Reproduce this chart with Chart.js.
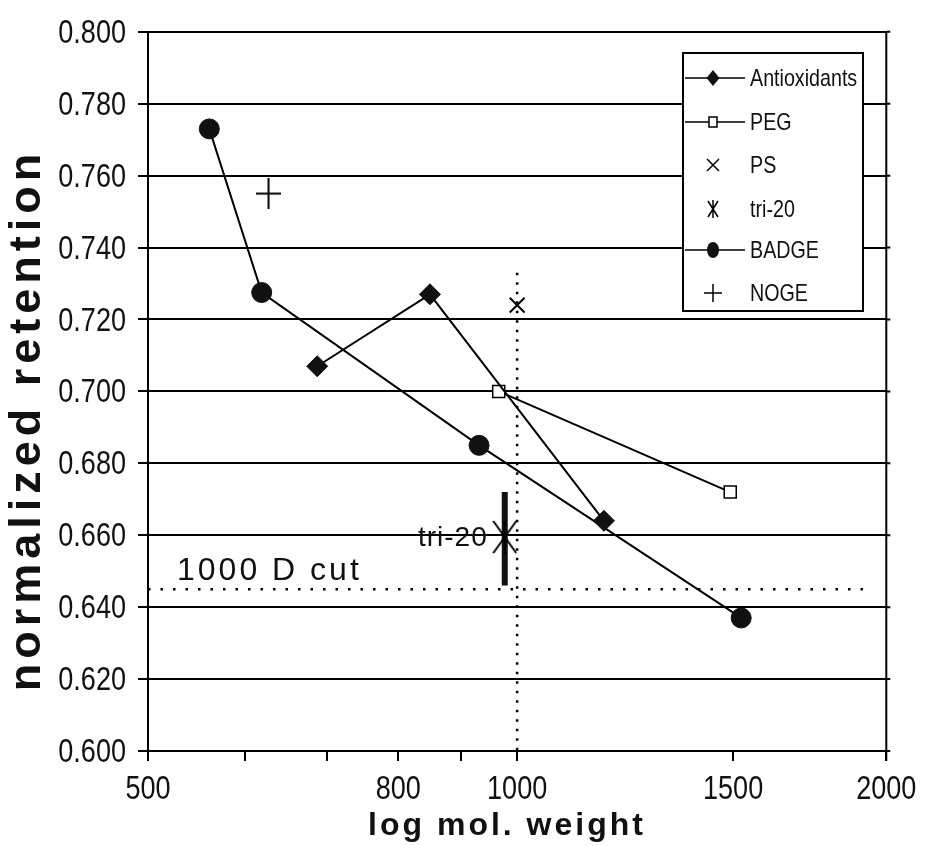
<!DOCTYPE html>
<html>
<head>
<meta charset="utf-8">
<script src="https://cdn.jsdelivr.net/npm/chart.js@4.4.1/dist/chart.umd.min.js"></script>
<style>
  html, body { margin: 0; padding: 0; background: #fff; }
  #wrap { width: 925px; height: 846px; }
</style>
</head>
<body>
<div id="wrap"><canvas id="myChart"></canvas></div>
<script>
const SANS = "'Liberation Sans', Arial, sans-serif";
const SQUEEZE = 0.82; // no narrow font installed, so text is squeezed by hand

// values: x = mol. weight, y = normalized retention
const antioxX = [687, 849, 1177];
const antioxY = [0.707, 0.727, 0.664];
const pegX = [966, 1492];
const pegY = [0.700, 0.672];
const psX = [1000];
const psY = [0.724];
const triX = [977];
const triY = [0.6595];
const triBarY = [0.672, 0.646];
const badgeX = [561, 619, 931, 1523];
const badgeY = [0.773, 0.7275, 0.685, 0.637];
const nogeX = [627];
const nogeY = [0.755];

// 1000 D cut lines
const cutMW = [1000, 1000];
const cutMWY = [0.733, 0.600];
const cutRetX = [500, 1930];
const cutRet = [0.645, 0.645];

const xTicks = [500, 600, 700, 800, 900, 1000, 1500, 2000];
const xLabels = [500, 800, 1000, 1500, 2000];
const yTicks = [0.600, 0.620, 0.640, 0.660, 0.680, 0.700, 0.720, 0.740, 0.760, 0.780, 0.800];

function pts(xs, ys) {
  return xs.map(function(x, i) { return { x: x, y: ys[i] }; });
}

// little canvases for the markers chart.js does not have
function starMark(w, h) {
  const c = document.createElement('canvas');
  c.width = w; c.height = h;
  const g = c.getContext('2d');
  g.strokeStyle = '#000'; g.lineWidth = 2;
  g.beginPath();
  g.moveTo(1, 1); g.lineTo(w - 1, h - 1);
  g.moveTo(w - 1, 1); g.lineTo(1, h - 1);
  g.moveTo(w / 2, 0); g.lineTo(w / 2, h);
  g.stroke();
  return c;
}
function plusMark(w, h) {
  const c = document.createElement('canvas');
  c.width = w; c.height = h;
  const g = c.getContext('2d');
  g.strokeStyle = '#000'; g.lineWidth = 2;
  g.beginPath();
  g.moveTo(0, h / 2); g.lineTo(w, h / 2);
  g.moveTo(w / 2, 0); g.lineTo(w / 2, h);
  g.stroke();
  return c;
}

const data = {
  datasets: [
    { label: 'Antioxidants', data: pts(antioxX, antioxY), showLine: true,
      borderColor: '#000', borderWidth: 2, pointStyle: 'rectRot', pointRadius: 10.5,
      pointBackgroundColor: '#111', pointBorderColor: '#111', pointBorderWidth: 1 },
    { label: 'PEG', data: pts(pegX, pegY), showLine: true,
      borderColor: '#000', borderWidth: 2, pointStyle: 'rect', pointRadius: 8.5,
      pointBackgroundColor: '#fff', pointBorderColor: '#000', pointBorderWidth: 1.5 },
    { label: 'PS', data: pts(psX, psY), showLine: false,
      pointStyle: 'crossRot', pointRadius: 10.5, pointBorderColor: '#000', pointBorderWidth: 2 },
    { label: 'tri-20', data: pts(triX, triY), showLine: false,
      pointStyle: starMark(25, 34), pointRadius: 12 },
    { label: 'BADGE', data: pts(badgeX, badgeY), showLine: true,
      borderColor: '#000', borderWidth: 2, pointStyle: 'circle', pointRadius: 10,
      pointBackgroundColor: '#111', pointBorderColor: '#111', pointBorderWidth: 1 },
    { label: 'NOGE', data: pts(nogeX, nogeY), showLine: false,
      pointStyle: plusMark(25, 31), pointRadius: 12 },
    // thick range bar for tri-20
    { label: '', data: pts([triX[0], triX[0]], triBarY), showLine: true,
      borderColor: '#111', borderWidth: 6, pointRadius: 0, borderCapStyle: 'butt' },
    { label: '', data: pts(cutMW, cutMWY), showLine: true,
      borderColor: '#000', borderWidth: 2.5, borderDash: [2.5, 7], pointRadius: 0 },
    { label: '', data: pts(cutRetX, cutRet), showLine: true,
      borderColor: '#000', borderWidth: 2.5, borderDash: [2.5, 10], pointRadius: 0 }
  ]
};

function narrowText(ctx, text, x, y, align) {
  ctx.save();
  ctx.translate(x, y);
  ctx.scale(SQUEEZE, 1);
  ctx.textAlign = align;
  ctx.fillText(text, 0, 0);
  ctx.restore();
}

function legendMark(ctx, i, x, y) {
  ctx.save();
  ctx.fillStyle = '#111'; ctx.strokeStyle = '#000'; ctx.lineWidth = 1.5;
  ctx.beginPath();
  if (i === 0) {
    ctx.moveTo(x, y - 8); ctx.lineTo(x + 6.5, y); ctx.lineTo(x, y + 8); ctx.lineTo(x - 6.5, y);
    ctx.closePath(); ctx.fill();
  } else if (i === 1) {
    ctx.fillStyle = '#fff';
    ctx.rect(x - 4, y - 5, 8, 10); ctx.fill(); ctx.stroke();
  } else if (i === 2) {
    ctx.moveTo(x - 6, y - 6); ctx.lineTo(x + 6, y + 6);
    ctx.moveTo(x + 6, y - 6); ctx.lineTo(x - 6, y + 6); ctx.stroke();
  } else if (i === 3) {
    ctx.moveTo(x - 5, y - 8); ctx.lineTo(x + 5, y + 8);
    ctx.moveTo(x + 5, y - 8); ctx.lineTo(x - 5, y + 8);
    ctx.moveTo(x, y - 9); ctx.lineTo(x, y + 9); ctx.stroke();
  } else if (i === 4) {
    ctx.ellipse(x, y, 6, 8, 0, 0, Math.PI * 2); ctx.fill();
  } else if (i === 5) {
    ctx.moveTo(x - 9, y); ctx.lineTo(x + 9, y);
    ctx.moveTo(x, y - 9); ctx.lineTo(x, y + 9); ctx.stroke();
  }
  ctx.restore();
}

const extras = {
  id: 'extras',
  afterDatasetsDraw(chart) {
    const ctx = chart.ctx, xs = chart.scales.x, ys = chart.scales.y, a = chart.chartArea;
    ctx.save();
    ctx.fillStyle = '#111';
    ctx.letterSpacing = '1px';
    ctx.font = '28px ' + SANS;
    ctx.textAlign = 'right';
    ctx.textBaseline = 'middle';
    ctx.fillText('tri-20', xs.getPixelForValue(triX[0]) - 17, ys.getPixelForValue(triY[0]) + 1);
    ctx.letterSpacing = '3px';
    ctx.font = '32px ' + SANS;
    ctx.textAlign = 'left';
    ctx.textBaseline = 'alphabetic';
    ctx.fillText('1000 D cut', a.left + 29, ys.getPixelForValue(cutRet[0]) - 9);
    ctx.restore();
  },
  afterDraw(chart) {
    const ctx = chart.ctx, a = chart.chartArea, xs = chart.scales.x, ys = chart.scales.y;
    ctx.save();
    // right frame and gridline stubs
    ctx.strokeStyle = '#000'; ctx.lineWidth = 2;
    ctx.beginPath();
    ctx.moveTo(a.right, a.top); ctx.lineTo(a.right, a.bottom + 10);
    ys.ticks.forEach(function(t) {
      const py = ys.getPixelForValue(t.value);
      ctx.moveTo(a.right, py); ctx.lineTo(a.right + 4, py);
    });
    ctx.stroke();

    // tick labels, squeezed
    ctx.fillStyle = '#111';
    ctx.font = '33px ' + SANS;
    ctx.textBaseline = 'middle';
    yTicks.forEach(function(v) {
      narrowText(ctx, v.toFixed(3), a.left - 22, ys.getPixelForValue(v) + 2, 'right');
    });
    ctx.textBaseline = 'alphabetic';
    xLabels.forEach(function(v) {
      narrowText(ctx, String(v), xs.getPixelForValue(v), a.bottom + 48, 'center');
    });

    // legend
    const bx = 683, by = 53, bw = 180, bh = 258;
    ctx.fillStyle = '#fff';
    ctx.fillRect(bx, by, bw, bh);
    ctx.lineWidth = 2;
    ctx.strokeRect(bx, by, bw, bh);
    const rowY = [78, 122, 165, 209, 250, 293];
    ctx.font = '24px ' + SANS;
    ctx.textBaseline = 'middle';
    for (let i = 0; i < 6; i++) {
      const ds = chart.data.datasets[i];
      if (ds.showLine) {
        ctx.beginPath();
        ctx.lineWidth = 1.5;
        ctx.moveTo(bx + 2, rowY[i]); ctx.lineTo(bx + 62, rowY[i]);
        ctx.stroke();
      }
      legendMark(ctx, i, bx + 30, rowY[i]);
      ctx.fillStyle = '#111';
      narrowText(ctx, ds.label, bx + 67, rowY[i] + 1, 'left');
    }

    // axis titles
    ctx.fillStyle = '#111';
    ctx.textAlign = 'center';
    ctx.textBaseline = 'alphabetic';
    ctx.letterSpacing = '3px';
    ctx.font = 'bold 32px ' + SANS;
    ctx.fillText('log mol. weight', 507, 835);
    ctx.translate(40, 420);
    ctx.rotate(-Math.PI / 2);
    ctx.letterSpacing = '5px';
    ctx.font = 'bold 45px ' + SANS;
    ctx.fillText('normalized retention', 0, 0);
    ctx.restore();
  }
};

const config = {
  type: 'scatter',
  data: data,
  options: {
    responsive: true,
    maintainAspectRatio: false,
    animation: false,
    layout: { padding: { top: 25, right: 34, bottom: 0, left: 0 } },
    plugins: { legend: { display: false }, tooltip: { enabled: false } },
    scales: {
      x: {
        type: 'logarithmic', min: 500, max: 2000,
        afterBuildTicks: function(s) { s.ticks = xTicks.map(function(v) { return { value: v }; }); },
        afterFit: function(s) { s.height = 95; },
        ticks: {
          autoSkip: false, maxRotation: 0, padding: 2, color: 'rgba(0,0,0,0)',
          font: { family: SANS, size: 33 },
          callback: function(v) { return xLabels.indexOf(v) >= 0 ? String(v) : ''; }
        },
        grid: { drawOnChartArea: false, color: '#000', lineWidth: 2, tickLength: 10 },
        border: { color: '#000', width: 2 }
      },
      y: {
        type: 'linear', min: 0.6, max: 0.8,
        afterBuildTicks: function(s) { s.ticks = yTicks.map(function(v) { return { value: v }; }); },
        afterFit: function(s) { s.width = 148; },
        ticks: {
          padding: 12, color: 'rgba(0,0,0,0)',
          font: { family: SANS, size: 33 },
          callback: function(v) { return Number(v).toFixed(3); }
        },
        grid: { color: '#000', lineWidth: 2, tickLength: 10 },
        border: { color: '#000', width: 2 }
      }
    }
  },
  plugins: [extras]
};

const myChart = new Chart(document.getElementById('myChart'), config);
</script>
</body>
</html>
